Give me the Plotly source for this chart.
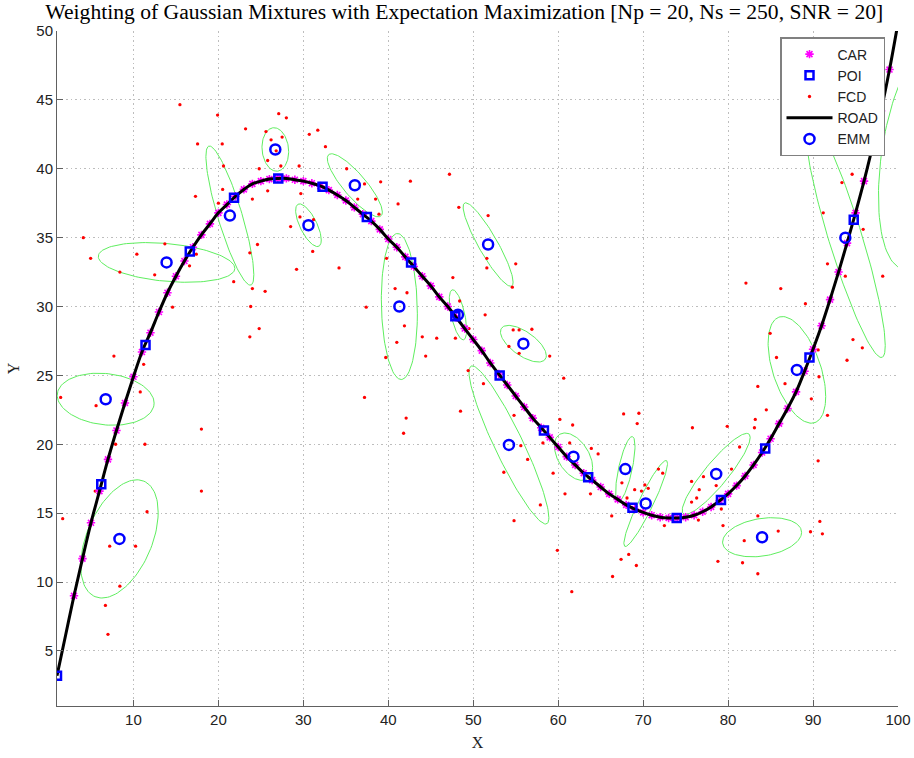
import numpy as np
import plotly.graph_objects as go

# ---------------- data ----------------
road_x = list(range(1, 101))
road_y = [3.2, 6.1, 9.0, 11.7, 14.3, 16.6, 18.9, 21.0, 23.0, 24.9,
          26.7, 28.1, 29.6, 31.0, 32.2, 33.3, 34.3, 35.2, 36.0, 36.8,
          37.4, 38.0, 38.5, 38.9, 39.1, 39.25, 39.3, 39.3, 39.2, 39.1,
          38.95, 38.75, 38.45, 38.1, 37.7, 37.2, 36.7, 36.2, 35.6, 34.9,
          34.3, 33.6, 32.9, 32.2, 31.5, 30.7, 30.0, 29.2, 28.4, 27.6,
          26.8, 25.9, 25.1, 24.3, 23.5, 22.7, 21.9, 21.2, 20.5, 19.8,
          19.1, 18.5, 17.9, 17.4, 16.9, 16.4, 16.0, 15.6, 15.3, 15.05,
          14.85, 14.7, 14.65, 14.65, 14.7, 14.85, 15.1, 15.45, 15.9, 16.4,
          17.0, 17.7, 18.5, 19.4, 20.4, 21.5, 22.6, 23.8, 25.3, 26.9,
          28.6, 30.5, 32.5, 34.6, 36.8, 39.1, 41.6, 44.2, 47.2, 50.6]

car_x = list(range(3, 100))
car_y = [9.0, 11.7, 14.3, 16.6, 18.9, 21.0, 23.0, 24.9,
         26.7, 28.1, 29.6, 31.0, 32.2, 33.3, 34.3, 35.2, 36.0, 36.8,
         37.4, 38.0, 38.5, 38.9, 39.1, 39.25, 39.3, 39.3, 39.2, 39.1,
         38.95, 38.75, 38.45, 38.1, 37.7, 37.2, 36.7, 36.2, 35.6, 34.9,
         34.3, 33.6, 32.9, 32.2, 31.5, 30.7, 30.0, 29.2, 28.4, 27.6,
         26.8, 25.9, 25.1, 24.3, 23.5, 22.7, 21.9, 21.2, 20.5, 19.8,
         19.1, 18.5, 17.9, 17.4, 16.9, 16.4, 16.0, 15.6, 15.3, 15.05,
         14.85, 14.7, 14.65, 14.65, 14.7, 14.85, 15.1, 15.45, 15.9, 16.4,
         17.0, 17.7, 18.5, 19.4, 20.4, 21.5, 22.6, 23.8, 25.3, 26.9,
         28.6, 30.5, 32.5, 34.6, 36.8, 39.1, 41.6, 44.2, 47.2]

poi_x = [1.0, 6.21, 11.42, 16.63, 21.84, 27.05, 32.26, 37.47, 42.68, 47.89,
         53.11, 58.32, 63.53, 68.74, 73.95, 79.16, 84.37, 89.58, 94.79, 100.0]
poi_y = [3.2, 17.1, 27.2, 34.0, 37.9, 39.3, 38.7, 36.5, 33.2, 29.3,
         25.0, 21.0, 17.6, 15.4, 14.65, 15.95, 19.7, 26.3, 36.3, 50.6]

fcd_x = [15.47, 19.9, 27.1, 28.0, 23.2, 17.55, 20.45, 25.6, 26.2, 25.8, 27.35, 24.8, 20.6, 20.5,
         25.8, 17.3, 20.0, 24.0, 24.6, 23.7, 4.1, 4.96, 10.4, 13.7, 17.4, 16.6, 8.4, 12.5, 21.8,
         24.0, 25.5, 23.8, 14.6, 24.8, 23.7, 26.8,
         30.7, 31.7, 32.6, 27.5, 29.5, 35.1, 39.1, 42.6, 47.2, 37.2, 29.7, 36.4, 38.5, 38.9, 41.15,
         48.3, 51.75, 29.6, 31.2, 28.5, 31.1, 51.6, 55.0, 51.6, 54.6, 29.2, 34.2, 40.8, 42.2, 37.4,
         47.6, 48.4, 51.4, 41.9, 44.0, 45.7, 49.5, 54.7, 55.4, 56.9,
         39.8, 41.0, 39.7, 44.4, 47.9, 54.2, 55.4, 59.0, 49.4, 51.2, 37.2, 48.5, 54.8, 60.65, 60.2,
         61.7, 42.1, 41.8, 55.6, 56.4, 58.2, 61.35, 63.9, 64.7, 59.4, 53.6, 60.8, 63.8, 57.9, 54.8,
         67.7, 69.5, 69.3, 75.8, 79.9, 83.5, 86.7, 84.5, 83.2, 83.1, 89.8, 91.7, 90.6, 89.7, 91.1,
         90.8, 81.35, 80.4, 78.6, 77.1, 76.6, 75.7, 76.3, 75.7, 79.2, 76.5, 79.4, 83.5, 85.9, 81.9,
         78.8, 81.7, 83.5, 59.9, 66.3, 67.5, 69.0, 69.8, 70.2, 70.6, 71.8, 72.3, 68.1, 72.5, 68.3,
         67.4, 69.2, 66.4,
         94.6, 93.4, 91.2, 95.9, 91.7, 93.8, 98.2, 82.1, 86.2, 89.1, 84.95, 85.7, 94.7, 95.8, 94.0,
         90.6, 90.7,
         7.7, 11.2, 1.43, 5.6, 10.8, 7.9, 11.35, 18.0, 18.0, 5.5, 1.67, 11.6, 7.2, 10.25, 8.4, 6.7,
         7.0, 61.6]
fcd_y = [44.65, 43.9, 44.0, 43.7, 42.9, 41.8, 41.8, 42.7, 42.1, 40.6, 40.2, 40.0, 40.2, 38.5,
         38.4, 38.0, 37.5, 37.8, 34.5, 33.9, 35.0, 33.5, 33.8, 34.55, 33.8, 32.95, 32.5, 32.3, 31.8,
         31.3, 31.1, 30.0, 29.95, 28.4, 27.8, 41.3,
         42.5, 42.8, 41.6, 42.3, 40.2, 40.0, 39.05, 39.1, 39.6, 38.9, 38.2, 37.8, 37.8, 36.7, 37.45,
         37.2, 36.6, 36.5, 36.3, 35.8, 34.0, 33.5, 33.1, 32.8, 31.4, 32.7, 32.8, 31.3, 31.0, 29.95,
         32.1, 30.4, 29.4, 28.6, 27.8, 27.7, 28.4, 28.3, 28.3, 28.35,
         33.5, 27.4, 26.3, 26.4, 27.7, 27.1, 26.6, 26.4, 25.35, 24.4, 23.4, 22.4, 22.1, 24.8, 21.8,
         21.4, 21.9, 20.8, 19.9, 18.9, 20.1, 20.1, 19.7, 19.3, 17.9, 17.97, 16.4, 16.4, 15.6, 14.45,
         22.2, 22.25, 21.5, 21.2, 21.3, 24.2, 24.4, 22.5, 21.8, 21.2, 23.3, 22.1, 18.8, 13.65, 13.5,
         14.4, 19.8, 18.2, 17.0, 17.65, 16.7, 17.3, 16.1, 15.8, 15.3, 14.5, 14.1, 14.8, 13.7, 13.0,
         11.5, 11.4, 10.6, 12.3, 14.8, 17.2, 16.7, 16.6, 17.05, 16.8, 18.2, 17.9, 16.1, 14.1, 12.0,
         11.65, 11.2, 10.4,
         39.6, 39.0, 36.8, 35.6, 33.1, 32.2, 32.2, 31.7, 31.3, 30.2, 28.05, 26.3, 27.6, 27.0, 26.1,
         26.85, 24.9,
         26.4, 25.8, 23.4, 22.8, 23.8, 20.0, 20.0, 21.1, 16.6, 16.6, 14.6, 15.1, 12.6, 12.6, 9.7, 8.3,
         6.2, 9.3]

emm_x = [6.73, 8.35, 13.9, 21.35, 26.7, 30.6, 36.06, 41.3, 48.2, 51.75,
         55.9, 54.2, 61.8, 67.9, 70.3, 78.6, 84.0, 88.1, 93.8, 102.7]
emm_y = [23.27, 13.13, 33.2, 36.6, 41.4, 35.9, 38.8, 30.0, 29.4, 34.5,
         27.3, 19.95, 19.1, 18.2, 15.7, 17.85, 13.25, 25.4, 35.0, 41.0]
# ellipse half extents (x, y) and tilt correlation
ell_sx = [5.7, 4.56, 8.04, 2.82, 1.57, 1.51, 3.24, 2.12, 1.02, 2.94,
          2.7, 4.7, 2.25, 1.14, 2.57, 4.0, 4.65, 3.39, 4.7, 5.0]
ell_sy = [1.89, 4.29, 1.44, 5.05, 1.58, 1.55, 2.29, 5.3, 1.82, 3.03,
          1.33, 5.74, 1.72, 2.36, 3.12, 2.94, 1.42, 3.87, 8.7, 8.3]
ell_rho = [-0.15, 0.45, -0.3, -0.85, -0.1, -0.69, -0.85, -0.1, -0.6, -0.9,
           -0.65, -0.92, -0.45, 0.7, 0.93, 0.9, 0.25, -0.5, -0.9, 0.36]

x_ticks = [10, 20, 30, 40, 50, 60, 70, 80, 90, 100]
y_ticks = [5, 10, 15, 20, 25, 30, 35, 40, 45, 50]

title_text = "Weighting of Gaussian Mixtures with Expectation Maximization [Np = 20, Ns = 250, SNR = 20]"

# ---------------- ellipse outlines ----------------
t = np.linspace(0, 2 * np.pi, 121)
ex, ey = [], []
for cx, cy, sx, sy, r in zip(emm_x, emm_y, ell_sx, ell_sy, ell_rho):
    ex += list(cx + sx * np.cos(t)) + [None]
    ey += list(cy + sy * (r * np.cos(t) + np.sqrt(1 - r * r) * np.sin(t))) + [None]

fig = go.Figure()
fig.add_trace(go.Scatter(x=ex, y=ey, mode="lines", showlegend=False, hoverinfo="skip",
                         line=dict(color="rgb(95,238,95)", width=1)))
fig.add_trace(go.Scatter(x=fcd_x, y=fcd_y, mode="markers", name="FCD", legendrank=3,
                         marker=dict(symbol="circle", size=3.3, color="red")))
fig.add_trace(go.Scatter(x=car_x, y=car_y, mode="markers", name="CAR", legendrank=1,
                         marker=dict(symbol="asterisk-open", size=7, color="magenta",
                                     line=dict(color="magenta", width=1.6))))
fig.add_trace(go.Scatter(x=road_x, y=road_y, mode="lines", name="ROAD", legendrank=4,
                         line=dict(color="black", width=3, shape="spline")))
fig.add_trace(go.Scatter(x=poi_x, y=poi_y, mode="markers", name="POI", legendrank=2,
                         marker=dict(symbol="square-open", size=8, color="blue",
                                     line=dict(color="blue", width=2.5))))
fig.add_trace(go.Scatter(x=emm_x, y=emm_y, mode="markers", name="EMM", legendrank=5,
                         marker=dict(symbol="circle-open", size=10, color="blue",
                                     line=dict(color="blue", width=2.5))))

axis_common = dict(showline=True, linecolor="#606060", linewidth=1, mirror=False,
                   showgrid=True, gridcolor="#bdbdbd", griddash="1.5px,3px", gridwidth=1,
                   zeroline=False, ticks="inside", ticklen=6, tickcolor="#606060",
                   automargin=False,
                   tickfont=dict(family="Liberation Sans, Arial", size=15, color="#222222"))

fig.update_layout(
    width=914, height=758,
    margin=dict(l=57, r=16, t=31, b=52, autoexpand=False),
    paper_bgcolor="white", plot_bgcolor="white",
    title=dict(text=title_text, x=0.508, xref="container", xanchor="center",
               y=1 - 11 / 758, yref="container", yanchor="middle",
               font=dict(family="Liberation Serif, Times New Roman", size=21.6, color="black")),
    xaxis=dict(range=[1, 100], tickvals=x_ticks,
               title=dict(text="X", standoff=9,
                          font=dict(family="Liberation Serif, Times New Roman", size=16, color="#222")),
               **axis_common),
    yaxis=dict(range=[1, 50], tickvals=y_ticks,
               title=dict(text="Y", standoff=12,
                          font=dict(family="Liberation Serif, Times New Roman", size=16, color="#222")),
               **axis_common),
    legend=dict(x=(780 - 57) / 841, y=(706 - 37) / 675, xanchor="left", yanchor="top",
                bgcolor="white", bordercolor="#808080", borderwidth=1.5,
                font=dict(family="Liberation Sans, Arial", size=14, color="#222"),
                itemwidth=46, tracegroupgap=0),
)

fig.write_html("out.html")
